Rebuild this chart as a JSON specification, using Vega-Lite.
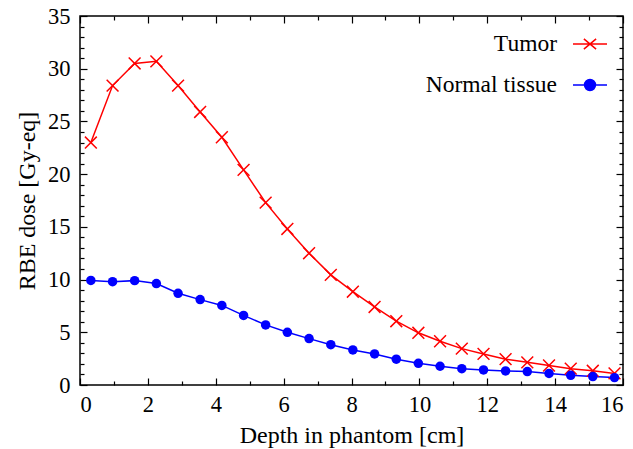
{
  "$schema": "https://vega.github.io/schema/vega-lite/v6.json",
  "width": 543,
  "height": 369,
  "autosize": "none",
  "padding": {"left": 80, "top": 16, "right": 10, "bottom": 64},
  "background": "white",
  "config": {
    "font": "Liberation Serif",
    "view": {"stroke": "black", "strokeWidth": 1.5},
    "axis": {"grid": false, "labelFont": "Liberation Serif", "titleFont": "Liberation Serif", "labelColor": "black", "titleColor": "black", "titleFontWeight": "normal", "tickColor": "black", "domain": false},
    "legend": {"labelFont": "Liberation Serif"}
  },
  "data": {
    "values": [
      {"depth": 0.32, "dose": 23.0, "series": "Tumor"},
      {"depth": 0.96, "dose": 28.4, "series": "Tumor"},
      {"depth": 1.61, "dose": 30.5, "series": "Tumor"},
      {"depth": 2.25, "dose": 30.7, "series": "Tumor"},
      {"depth": 2.89, "dose": 28.4, "series": "Tumor"},
      {"depth": 3.54, "dose": 25.9, "series": "Tumor"},
      {"depth": 4.18, "dose": 23.5, "series": "Tumor"},
      {"depth": 4.82, "dose": 20.4, "series": "Tumor"},
      {"depth": 5.47, "dose": 17.3, "series": "Tumor"},
      {"depth": 6.11, "dose": 14.8, "series": "Tumor"},
      {"depth": 6.75, "dose": 12.5, "series": "Tumor"},
      {"depth": 7.39, "dose": 10.45, "series": "Tumor"},
      {"depth": 8.04, "dose": 8.85, "series": "Tumor"},
      {"depth": 8.68, "dose": 7.4, "series": "Tumor"},
      {"depth": 9.32, "dose": 6.05, "series": "Tumor"},
      {"depth": 9.97, "dose": 4.95, "series": "Tumor"},
      {"depth": 10.61, "dose": 4.15, "series": "Tumor"},
      {"depth": 11.25, "dose": 3.45, "series": "Tumor"},
      {"depth": 11.89, "dose": 2.95, "series": "Tumor"},
      {"depth": 12.54, "dose": 2.45, "series": "Tumor"},
      {"depth": 13.18, "dose": 2.15, "series": "Tumor"},
      {"depth": 13.82, "dose": 1.85, "series": "Tumor"},
      {"depth": 14.46, "dose": 1.55, "series": "Tumor"},
      {"depth": 15.11, "dose": 1.35, "series": "Tumor"},
      {"depth": 15.75, "dose": 1.1, "series": "Tumor"},
      {"depth": 0.32, "dose": 9.92, "series": "Normal tissue"},
      {"depth": 0.96, "dose": 9.8, "series": "Normal tissue"},
      {"depth": 1.61, "dose": 9.9, "series": "Normal tissue"},
      {"depth": 2.25, "dose": 9.62, "series": "Normal tissue"},
      {"depth": 2.89, "dose": 8.7, "series": "Normal tissue"},
      {"depth": 3.54, "dose": 8.1, "series": "Normal tissue"},
      {"depth": 4.18, "dose": 7.55, "series": "Normal tissue"},
      {"depth": 4.82, "dose": 6.6, "series": "Normal tissue"},
      {"depth": 5.47, "dose": 5.7, "series": "Normal tissue"},
      {"depth": 6.11, "dose": 5.0, "series": "Normal tissue"},
      {"depth": 6.75, "dose": 4.4, "series": "Normal tissue"},
      {"depth": 7.39, "dose": 3.82, "series": "Normal tissue"},
      {"depth": 8.04, "dose": 3.33, "series": "Normal tissue"},
      {"depth": 8.68, "dose": 2.95, "series": "Normal tissue"},
      {"depth": 9.32, "dose": 2.45, "series": "Normal tissue"},
      {"depth": 9.97, "dose": 2.06, "series": "Normal tissue"},
      {"depth": 10.61, "dose": 1.78, "series": "Normal tissue"},
      {"depth": 11.25, "dose": 1.55, "series": "Normal tissue"},
      {"depth": 11.89, "dose": 1.43, "series": "Normal tissue"},
      {"depth": 12.54, "dose": 1.33, "series": "Normal tissue"},
      {"depth": 13.18, "dose": 1.27, "series": "Normal tissue"},
      {"depth": 13.82, "dose": 1.1, "series": "Normal tissue"},
      {"depth": 14.46, "dose": 0.92, "series": "Normal tissue"},
      {"depth": 15.11, "dose": 0.8, "series": "Normal tissue"},
      {"depth": 15.75, "dose": 0.7, "series": "Normal tissue"}
    ]
  },
  "resolve": {"axis": {"x": "independent", "y": "independent"}},
  "layer": [
    {
      "mark": {"type": "line", "strokeWidth": 1.5},
      "encoding": {
        "x": {"field": "depth", "type": "quantitative", "scale": {"domain": [0, 16], "nice": false},
          "axis": {"orient": "bottom", "values": [0, 2, 4, 6, 8, 10, 12, 14, 16], "ticks": false, "labelFontSize": 22.5, "labelPadding": 8, "title": "Depth in phantom [cm]", "titleFontSize": 24, "titlePadding": 8}},
        "y": {"field": "dose", "type": "quantitative", "scale": {"domain": [0, 35], "nice": false},
          "axis": {"orient": "left", "values": [0, 5, 10, 15, 20, 25, 30, 35], "ticks": false, "labelFontSize": 22.5, "labelPadding": 10, "title": "RBE dose [Gy-eq]", "titleFontSize": 24, "titlePadding": 8.5}},
        "color": {"field": "series", "type": "nominal",
          "scale": {"domain": ["Tumor", "Normal tissue"], "range": ["#ff0000", "#0000ff"]},
          "legend": {"title": null, "orient": "none", "legendX": 492, "legendY": 10, "padding": 0,
            "labelFontSize": 23.5, "labelColor": "black",
            "labelAlign": "right", "labelOffset": -51, "symbolSize": 1156, "symbolStrokeWidth": 1.5, "rowPadding": 11,
            "encode": {"symbols": {"update": {
              "shape": {"signal": "datum.value === 'Tumor' ? 'M-1,0H1M-0.36,-0.3L0.36,0.3M-0.36,0.3L0.36,-0.3' : 'M-1,0H1M0.32,0A0.32,0.32,0,1,1,-0.32,0A0.32,0.32,0,1,1,0.32,0Z'"},
              "fill": {"signal": "datum.value === 'Tumor' ? 'transparent' : '#0000ff'"},
              "stroke": {"signal": "datum.value === 'Tumor' ? '#ff0000' : '#0000ff'"},
              "opacity": {"value": 1}
            }}}
          }}
      }
    },
    {
      "transform": [{"filter": "datum.series === 'Tumor'"}],
      "mark": {"type": "point", "shape": "M-1,-1L1,1M-1,1L1,-1", "filled": false, "size": 140, "strokeWidth": 1.5, "color": "#ff0000", "opacity": 1},
      "encoding": {
        "x": {"field": "depth", "type": "quantitative", "scale": {"domain": [0, 16], "nice": false}, "axis": null},
        "y": {"field": "dose", "type": "quantitative", "scale": {"domain": [0, 35], "nice": false}, "axis": null}
      }
    },
    {
      "transform": [{"filter": "datum.series === 'Normal tissue'"}],
      "mark": {"type": "point", "shape": "circle", "filled": true, "size": 90, "color": "#0000ff", "opacity": 1},
      "encoding": {
        "x": {"field": "depth", "type": "quantitative", "scale": {"domain": [0, 16], "nice": false}, "axis": null},
        "y": {"field": "dose", "type": "quantitative", "scale": {"domain": [0, 35], "nice": false}, "axis": null}
      }
    },
    {
      "mark": {"type": "point", "opacity": 0},
      "encoding": {"x": {"field": "depth", "type": "quantitative", "scale": {"domain": [0, 16], "nice": false},
        "axis": {"orient": "bottom", "values": [0, 2, 4, 6, 8, 10, 12, 14, 16], "labels": false, "title": null, "tickSize": 7, "tickWidth": 1.2, "offset": -7}}}
    },
    {
      "mark": {"type": "point", "opacity": 0},
      "encoding": {"x": {"field": "depth", "type": "quantitative", "scale": {"domain": [0, 16], "nice": false},
        "axis": {"orient": "bottom", "values": [1, 3, 5, 7, 9, 11, 13, 15], "labels": false, "title": null, "tickSize": 4, "tickWidth": 1.2, "offset": -4}}}
    },
    {
      "mark": {"type": "point", "opacity": 0},
      "encoding": {"x": {"field": "depth", "type": "quantitative", "scale": {"domain": [0, 16], "nice": false},
        "axis": {"orient": "top", "values": [0, 2, 4, 6, 8, 10, 12, 14, 16], "labels": false, "title": null, "tickSize": 7, "tickWidth": 1.2, "offset": -7}}}
    },
    {
      "mark": {"type": "point", "opacity": 0},
      "encoding": {"x": {"field": "depth", "type": "quantitative", "scale": {"domain": [0, 16], "nice": false},
        "axis": {"orient": "top", "values": [1, 3, 5, 7, 9, 11, 13, 15], "labels": false, "title": null, "tickSize": 4, "tickWidth": 1.2, "offset": -4}}}
    },
    {
      "mark": {"type": "point", "opacity": 0},
      "encoding": {"y": {"field": "dose", "type": "quantitative", "scale": {"domain": [0, 35], "nice": false},
        "axis": {"orient": "left", "values": [0, 5, 10, 15, 20, 25, 30, 35], "labels": false, "title": null, "tickSize": 7, "tickWidth": 1.2, "offset": -7}}}
    },
    {
      "mark": {"type": "point", "opacity": 0},
      "encoding": {"y": {"field": "dose", "type": "quantitative", "scale": {"domain": [0, 35], "nice": false},
        "axis": {"orient": "left", "values": [1, 2, 3, 4, 6, 7, 8, 9, 11, 12, 13, 14, 16, 17, 18, 19, 21, 22, 23, 24, 26, 27, 28, 29, 31, 32, 33, 34], "labels": false, "title": null, "tickSize": 4, "tickWidth": 1.2, "offset": -4}}}
    },
    {
      "mark": {"type": "point", "opacity": 0},
      "encoding": {"y": {"field": "dose", "type": "quantitative", "scale": {"domain": [0, 35], "nice": false},
        "axis": {"orient": "right", "values": [0, 5, 10, 15, 20, 25, 30, 35], "labels": false, "title": null, "tickSize": 7, "tickWidth": 1.2, "offset": -7}}}
    },
    {
      "mark": {"type": "point", "opacity": 0},
      "encoding": {"y": {"field": "dose", "type": "quantitative", "scale": {"domain": [0, 35], "nice": false},
        "axis": {"orient": "right", "values": [1, 2, 3, 4, 6, 7, 8, 9, 11, 12, 13, 14, 16, 17, 18, 19, 21, 22, 23, 24, 26, 27, 28, 29, 31, 32, 33, 34], "labels": false, "title": null, "tickSize": 4, "tickWidth": 1.2, "offset": -4}}}
    }
  ]
}
